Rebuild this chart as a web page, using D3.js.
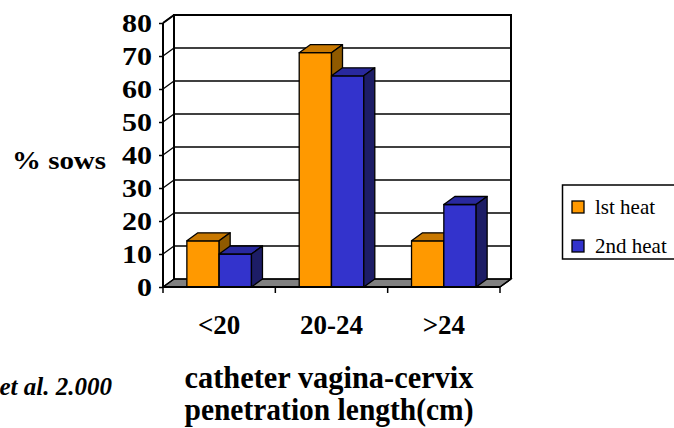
<!DOCTYPE html>
<html><head><meta charset="utf-8">
<script src="https://cdn.jsdelivr.net/npm/d3@7"></script>
<style>body{margin:0;background:#fff}svg{display:block}</style>
</head><body>
<svg id="c" width="674" height="428"></svg>
<script>
const categories = ["<20", "20-24", ">24"];
const seriesNames = ["lst heat", "2nd heat"];
const firstHeat = [14, 71, 14];
const secondHeat = [10, 64, 25];
const yTicks = [0, 10, 20, 30, 40, 50, 60, 70, 80];
const xTitle = ["catheter vagina-cervix", "penetration length(cm)"];
const yTitle = "% sows";
const source = "et al. 2.000";

const svg = d3.select("#c");
const serif = "Liberation Serif";
const DX = 11, DY = -8;
const x = d3.scaleBand().domain(categories).range([163, 500]);
const inner = d3.scaleBand().domain(seriesNames).range([0, 64.6]);
const y = d3.scaleLinear().domain([0, 80]).range([287, 23]);
const fills = {
  "lst heat": {front: "#FF9900", top: "#C87800", side: "#8F5A00"},
  "2nd heat": {front: "#3333CC", top: "#29299E", side: "#1D1D66"}
};

// floor
svg.append("path")
  .attr("d", `M${x.range()[0]},${y(0)}L${x.range()[1]},${y(0)}L${x.range()[1]+DX},${y(0)+DY}L${x.range()[0]+DX},${y(0)+DY}Z`)
  .attr("fill", "#808080").attr("stroke", "#000").attr("stroke-width", 1.2);

// back wall gridlines
svg.append("g").selectAll("line").data(yTicks).join("line")
  .attr("x1", x.range()[0] + DX).attr("x2", x.range()[1] + DX)
  .attr("y1", d => y(d) + DY).attr("y2", d => y(d) + DY)
  .attr("stroke", "#000").attr("stroke-width", 1.3);
// side wall diagonals
svg.append("g").selectAll("line").data(yTicks).join("line")
  .attr("x1", x.range()[0]).attr("x2", x.range()[0] + DX)
  .attr("y1", d => y(d)).attr("y2", d => y(d) + DY)
  .attr("stroke", "#000").attr("stroke-width", 1.3);
// back wall frame
svg.append("path")
  .attr("d", `M${x.range()[0]+DX},${y(0)+DY}V${y(80)+DY}H${x.range()[1]+DX}V${y(0)+DY}`)
  .attr("fill", "none").attr("stroke", "#000").attr("stroke-width", 2);

// bars
const data = categories.map((c, i) => ({c, vals: [
  {s: seriesNames[0], v: firstHeat[i]}, {s: seriesNames[1], v: secondHeat[i]}]}));
const bars = svg.append("g");
data.forEach(g => {
  g.vals.forEach(d => {
    const x0 = x(g.c) + (x.bandwidth() - 64.6) / 2 + inner(d.s);
    const x1 = x0 + inner.bandwidth();
    const yt = y(d.v), yb = y(0);
    const f = fills[d.s];
    bars.append("path").attr("d", `M${x0},${yt}L${x1},${yt}L${x1},${yb}L${x0},${yb}Z`)
      .attr("fill", f.front).attr("stroke", "#000").attr("stroke-width", 1.3).attr("stroke-linejoin", "round");
    bars.append("path").attr("d", `M${x0},${yt}L${x0+DX},${yt+DY}L${x1+DX},${yt+DY}L${x1},${yt}Z`)
      .attr("fill", f.top).attr("stroke", "#000").attr("stroke-width", 1.3).attr("stroke-linejoin", "round");
    bars.append("path").attr("d", `M${x1},${yt}L${x1+DX},${yt+DY}L${x1+DX},${yb+DY}L${x1},${yb}Z`)
      .attr("fill", f.side).attr("stroke", "#000").attr("stroke-width", 1.3).attr("stroke-linejoin", "round");
  });
});

// y axis
const yAxis = svg.append("g").attr("transform", `translate(${x.range()[0]},0)`)
  .call(d3.axisLeft(y).tickValues(yTicks).tickSize(4).tickPadding(7).tickFormat(d3.format("d")));
yAxis.attr("font-family", null).attr("font-size", null);
yAxis.select(".domain").attr("d", `M0,${y(0)}V${y(80)}`).attr("stroke", "#000").attr("stroke-width", 2);
yAxis.selectAll(".tick line").attr("stroke", "#000").attr("stroke-width", 1.5);
yAxis.selectAll(".tick text").style("font-family", serif).style("font-weight", "bold")
  .style("font-size", "25px").attr("fill", "#000")
  .attr("textLength", d => String(d).length * 15).attr("lengthAdjust", "spacingAndGlyphs");
// top diagonal of axis
svg.append("line").attr("x1", x.range()[0]).attr("y1", y(80)).attr("x2", x.range()[0] + DX).attr("y2", y(80) + DY)
  .attr("stroke", "#000").attr("stroke-width", 2);

// x axis
const xAxis = svg.append("g").attr("transform", `translate(0,${y(0)})`)
  .call(d3.axisBottom(x).tickSize(0).tickPadding(28));
xAxis.attr("font-family", null).attr("font-size", null);
xAxis.select(".domain").attr("stroke", "#000").attr("stroke-width", 2).attr("d", `M${x.range()[0]},0H${x.range()[1]}`);
xAxis.selectAll(".tick text").style("font-family", serif).style("font-weight", "bold")
  .style("font-size", "27px").attr("fill", "#000");
const bounds = categories.map(c => x(c)).concat([x.range()[1]]);
svg.append("g").selectAll("line").data(bounds).join("line")
  .attr("x1", d => d).attr("x2", d => d).attr("y1", y(0)).attr("y2", y(0) + 6)
  .attr("stroke", "#000").attr("stroke-width", 1.5);
// right floor edge
svg.append("line").attr("x1", x.range()[1]).attr("y1", y(0)).attr("x2", x.range()[1] + DX).attr("y2", y(0) + DY)
  .attr("stroke", "#000").attr("stroke-width", 1.5);

// titles
svg.append("text").attr("x", 12).attr("y", 169).text(yTitle)
  .style("font-family", serif).style("font-weight", "bold").style("font-size", "26px")
  .attr("textLength", 94).attr("lengthAdjust", "spacingAndGlyphs");
svg.append("g").selectAll("text").data(xTitle).join("text")
  .attr("x", 329).attr("y", (d, i) => 388 + i * 32).attr("text-anchor", "middle").text(d => d)
  .style("font-family", serif).style("font-weight", "bold").style("font-size", "31px")
  .attr("textLength", 289).attr("lengthAdjust", "spacingAndGlyphs");
svg.append("text").attr("x", 112).attr("y", 395).attr("text-anchor", "end").text(source)
  .style("font-family", serif).style("font-weight", "bold").style("font-style", "italic").style("font-size", "25px");

// legend
const lg = svg.append("g");
lg.append("rect").attr("x", 562.5).attr("y", 185).attr("width", 130).attr("height", 74)
  .attr("fill", "#fff").attr("stroke", "#000").attr("stroke-width", 1.5);
seriesNames.forEach((s, i) => {
  const yy = 201 + i * 39;
  lg.append("rect").attr("x", 572).attr("y", yy).attr("width", 12).attr("height", 12)
    .attr("fill", fills[s].front).attr("stroke", "#000").attr("stroke-width", 1.3);
  lg.append("text").attr("x", 595).attr("y", yy + 13).text(s)
    .style("font-family", serif).style("font-size", "21px").attr("fill", "#000");
});
</script>
</body></html>
